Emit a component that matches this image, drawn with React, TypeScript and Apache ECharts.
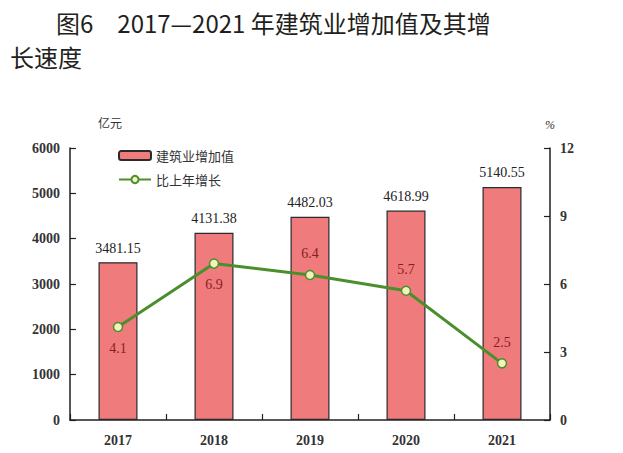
import React, { useEffect, useRef } from "react";
import * as echarts from "echarts";

const years = ["2017", "2018", "2019", "2020", "2021"];
const addedValue = [3481.15, 4131.38, 4482.03, 4618.99, 5140.55];
const growth = [4.1, 6.9, 6.4, 5.7, 2.5];
const growthLabelPos = ["bottom", "bottom", "top", "top", "top"];

const serif = "'Liberation Serif', 'DejaVu Serif', serif";
const cjk = "'Noto Sans CJK SC', sans-serif";

export default function App() {
  const ref = useRef<HTMLDivElement>(null);
  useEffect(() => {
    if (!ref.current) return;
    const chart = echarts.init(ref.current, undefined, { renderer: "svg" });
    const axisLine = { show: true, lineStyle: { color: "#231f20", width: 1.5 } };
    const tickLabel = {
      margin: 10,
      fontFamily: serif,
      fontSize: 14,
      fontWeight: "bold",
      color: "#333",
      formatter: (v: any) => String(v),
    };
    chart.setOption({
      animation: false,
      backgroundColor: "#ffffff",
      title: [
        {
          text: "图6　2017—2021 年建筑业增加值及其增",
          left: 51,
          top: 5,
          textStyle: { fontFamily: cjk, fontSize: 24, fontWeight: "normal", color: "#231f20" },
        },
        {
          text: "长速度",
          left: 5,
          top: 39,
          textStyle: { fontFamily: cjk, fontSize: 24, fontWeight: "normal", color: "#231f20" },
        },
      ],
      legend: {
        orient: "vertical",
        left: 113,
        top: 144,
        itemWidth: 32,
        itemHeight: 9,
        itemGap: 11,
        textStyle: { fontFamily: cjk, fontSize: 13, color: "#333" },
        data: ["建筑业增加值", "比上年增长"],
      },
      grid: { left: 70, right: 73, top: 148, bottom: 33, containLabel: false },
      xAxis: {
        type: "category",
        data: years,
        axisLine,
        axisTick: { show: true, inside: true, length: 6, lineStyle: { color: "#231f20", width: 1.2 } },
        axisLabel: { ...tickLabel, margin: 13 },
      },
      yAxis: [
        {
          type: "value",
          min: 0,
          max: 6000,
          interval: 1000,
          name: "亿元",
          nameLocation: "end",
          nameGap: 20,
          nameTextStyle: { fontFamily: cjk, fontSize: 12, color: "#333", align: "left", padding: [0, 0, 0, 28] },
          axisLine,
          axisTick: { show: true, inside: true, length: 6, lineStyle: { color: "#231f20", width: 1.2 } },
          axisLabel: tickLabel,
          splitLine: { show: false },
        },
        {
          type: "value",
          min: 0,
          max: 12,
          interval: 3,
          name: "%",
          nameLocation: "end",
          nameGap: 17,
          nameTextStyle: { fontFamily: serif, fontSize: 12, fontStyle: "italic", color: "#333", align: "center" },
          axisLine,
          axisTick: { show: true, inside: true, length: 6, lineStyle: { color: "#231f20", width: 1.2 } },
          axisLabel: tickLabel,
          splitLine: { show: false },
        },
      ],
      series: [
        {
          name: "建筑业增加值",
          type: "bar",
          data: addedValue,
          barWidth: 39,
          itemStyle: { color: "#f07b7d", borderColor: "#2a2a2a", borderWidth: 1.2 },
          label: {
            show: true,
            position: "top",
            distance: 7,
            fontFamily: serif,
            fontSize: 14,
            color: "#222",
            formatter: (p: any) => p.value.toFixed(2),
          },
        },
        {
          name: "比上年增长",
          type: "line",
          yAxisIndex: 1,
          data: growth.map((v, i) => ({
            value: v,
            label: { position: growthLabelPos[i] },
          })),
          symbol: "circle",
          symbolSize: 9,
          lineStyle: { color: "#4b8f2c", width: 3 },
          itemStyle: { color: "#f1f3bd", borderColor: "#4b8f2c", borderWidth: 1.5 },
          label: {
            show: true,
            distance: 9,
            fontFamily: serif,
            fontSize: 14,
            color: "#8a1c22",
            formatter: (p: any) => p.value.toFixed(1),
          },
        },
      ],
    });
    return () => chart.dispose();
  }, []);
  return <div ref={ref} style={{ width: 623, height: 453, position: "fixed", left: 0, top: 0 }} />;
}
